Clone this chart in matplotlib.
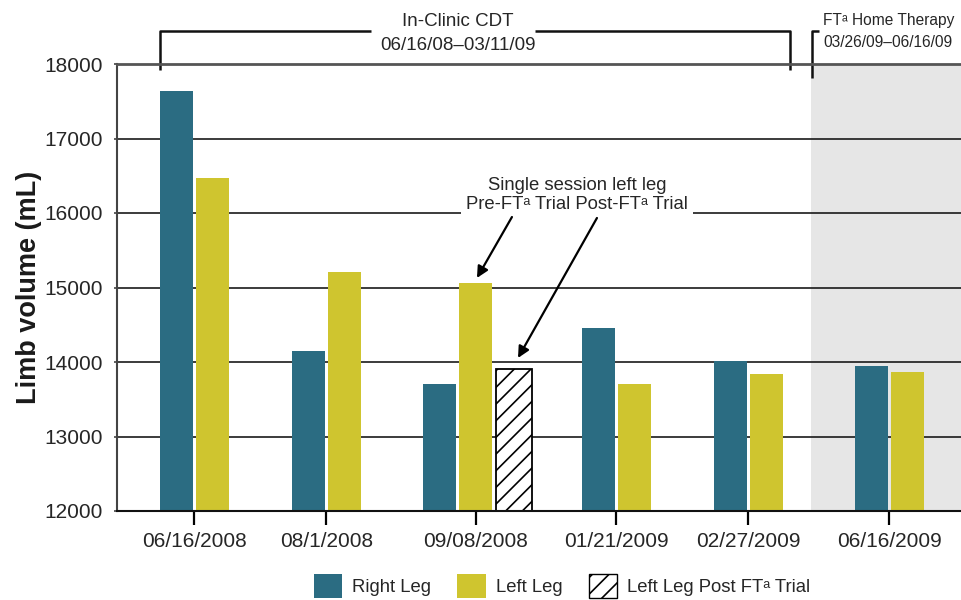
import matplotlib
matplotlib.use('Agg')
import matplotlib.pyplot as plt
from matplotlib.patches import Patch

plt.rcParams['font.family'] = ['Liberation Sans', 'DejaVu Sans']
plt.rcParams['hatch.linewidth'] = 1.2

dates = ['06/16/2008', '08/1/2008', '09/08/2008', '01/21/2009', '02/27/2009', '06/16/2009']
right_leg = [17640, 14150, 13710, 14460, 14020, 13940]
left_leg = [16470, 15210, 15060, 13710, 13845, 13860]
post_ft_trial = 13900  # single session, 09/08/2008

# group positions (uneven spacing as in the original)
xpos = [0.0, 1.0, 2.129, 3.197, 4.197, 5.265]
w = 0.25
teal = '#2b6c82'
yellow = '#cfc52f'
txt = '#262626'

fig = plt.figure(figsize=(9.61, 6.0), dpi=100)
ax = fig.add_axes([117 / 961, 89 / 600, 844 / 961, 447 / 600])

ax.axvspan(4.67, 5.9, color='#e6e6e6', zorder=0, lw=0)

for i, x in enumerate(xpos):
    if i == 2:
        ax.bar(x - 0.273, right_leg[i], w, color=teal, zorder=3)
        ax.bar(x, left_leg[i], w, color=yellow, zorder=3)
        ax.bar(x + 0.29, post_ft_trial, 0.27, color='white', edgecolor='black',
               hatch='//', lw=1.3, zorder=3)
    else:
        ax.bar(x - 0.136, right_leg[i], w, color=teal, zorder=3)
        ax.bar(x + 0.136, left_leg[i], w, color=yellow, zorder=3)

ax.set_ylim(12000, 18000)
ax.set_xlim(-0.587, 5.807)
ax.set_yticks(range(12000, 18001, 1000))
ax.set_xticks(xpos)
ax.set_xticklabels(dates)
ax.yaxis.grid(True, color='#1a1a1a', lw=1.2)
ax.set_axisbelow(False)
for g in ax.yaxis.get_gridlines():
    g.set_zorder(1)

ax.tick_params(axis='x', length=10, width=1.6, color='black', pad=5,
               labelsize=15, labelcolor=txt)
ax.tick_params(axis='y', length=2, width=1.2, color='#444', pad=8,
               labelsize=15, labelcolor=txt)
ax.spines['right'].set_visible(False)
ax.spines['left'].set_color('#444')
ax.spines['left'].set_linewidth(1.5)
ax.spines['top'].set_color('#555')
ax.spines['top'].set_linewidth(2)
ax.spines['bottom'].set_color('#111')
ax.spines['bottom'].set_linewidth(1.5)
for s in ax.spines.values():
    s.set_zorder(4)

ax.set_ylabel('Limb volume (mL)', fontsize=19.5, fontweight='bold', color='#1a1a1a')
ax.yaxis.set_label_coords(-0.089, 0.5)

# top brackets
bk = dict(color='#111', lw=1.8, clip_on=False, solid_capstyle='butt')
ax.plot([-0.261, -0.261, 1.34], [17920, 18447, 18447], **bk)
ax.plot([2.58, 4.511, 4.511], [18447, 18447, 17920], **bk)
ax.plot([4.735, 4.678, 4.678], [18447, 18447, 17812], **bk)
ax.text(1.996, 18568, 'In-Clinic CDT', ha='center', va='center', fontsize=13.5, color=txt)
ax.text(1.996, 18255, '06/16/08\u201303/11/09', ha='center', va='center', fontsize=13.5, color=txt)
ax.text(4.761, 18590, 'FT\u1d43 Home Therapy', ha='left', va='center', fontsize=11.2, color=txt)
ax.text(4.761, 18282, '03/26/09\u201306/16/09', ha='left', va='center', fontsize=11.2, color=txt)

# single session callout
ax.text(2.898, 16242, 'Single session left leg\nPre-FT\u1d43 Trial Post-FT\u1d43 Trial',
        ha='center', va='center', fontsize=13.3, color=txt, linespacing=1.2,
        bbox=dict(facecolor='white', edgecolor='none', pad=4), zorder=5)
arr = dict(arrowstyle='-|>', color='black', lw=1.6, mutation_scale=17, shrinkA=0, shrinkB=0)
ax.annotate('', xy=(2.140, 15128), xytext=(2.405, 15946), arrowprops=arr, zorder=6)
ax.annotate('', xy=(2.451, 14054), xytext=(3.049, 15933), arrowprops=arr, zorder=6)

handles = [Patch(facecolor=teal, label='Right Leg'),
           Patch(facecolor=yellow, label='Left Leg'),
           Patch(facecolor='white', edgecolor='black', hatch='//', label='Left Leg Post FT\u1d43 Trial')]
leg = fig.legend(handles=handles, loc='center', bbox_to_anchor=(562 / 961, 14 / 600),
                 ncol=3, frameon=False, fontsize=13.3, handlelength=1.55, handleheight=1.65,
                 handletextpad=0.55, columnspacing=1.4, borderpad=0)
for t in leg.get_texts():
    t.set_color(txt)

plt.savefig('out.png', dpi=100)
